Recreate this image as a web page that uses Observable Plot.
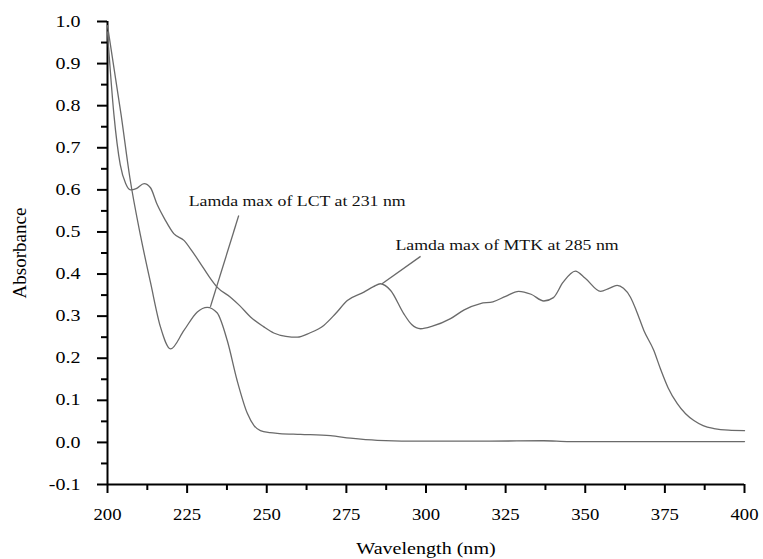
<!DOCTYPE html>
<html><head><meta charset="utf-8">
<script src="https://cdn.jsdelivr.net/npm/d3@7"></script>
<script src="https://cdn.jsdelivr.net/npm/@observablehq/plot@0.6"></script>
<style>body{margin:0;background:#fff;} svg text{font-family:"Liberation Serif","Times New Roman",serif;}</style>
</head><body><div id="chart"></div>
<script>
// MTK spectrum
const mtkWavelength = [200,202,204,205.7,207.2,209,211.5,213.5,215.6,218,220.8,224,226.5,229.2,231.8,234.4,238.6,241.5,244.9,249,252.2,256,259.6,263.5,267.9,271.5,275.3,280.5,283.5,285.7,288.9,293,295.5,298.3,302,307.7,312,317.1,321,325,329.1,333,337,340,343,346.9,350,354.8,357.5,360,362,364.2,366.2,368.4,371.5,373.6,376,378.9,381.5,384.1,387,390.4,395,400];
const mtkAbsorbance = [0.975,0.78,0.66,0.615,0.600,0.603,0.615,0.605,0.565,0.53,0.496,0.48,0.455,0.425,0.395,0.369,0.345,0.325,0.298,0.275,0.26,0.252,0.25,0.26,0.278,0.305,0.337,0.357,0.37,0.377,0.361,0.306,0.28,0.27,0.276,0.294,0.315,0.330,0.334,0.347,0.359,0.352,0.336,0.344,0.38,0.407,0.39,0.359,0.366,0.373,0.366,0.345,0.31,0.266,0.219,0.175,0.13,0.092,0.068,0.052,0.04,0.033,0.029,0.028];
// LCT spectrum
const lctWavelength = [200,204.3,207,210.4,213.5,216.6,219.8,224,228.2,231.3,234.4,237.6,240.7,243.9,246,248,251,254,260.6,270,276.3,284.7,300,320,337,345,370,400];
const lctAbsorbance = [0.99,0.777,0.63,0.49,0.38,0.275,0.222,0.266,0.31,0.321,0.308,0.242,0.147,0.069,0.04,0.028,0.023,0.021,0.019,0.016,0.01,0.005,0.003,0.003,0.004,0.002,0.002,0.002];

const xTicks = [200,225,250,275,300,325,350,375,400];
const xMinorTicks = [212.5,237.5,262.5,287.5,312.5,337.5,362.5,387.5];
const yTicks = [-0.1,0,0.1,0.2,0.3,0.4,0.5,0.6,0.7,0.8,0.9,1.0];
const yMinorTicks = [-0.05,0.05,0.15,0.25,0.35,0.45,0.55,0.65,0.75,0.85,0.95];

const annotationText = ["Lamda max of LCT at 231 nm","Lamda max of MTK at 285 nm"];
const annotationX = [225.5,290.4];
const annotationY = [0.561,0.458];
const leaderX1 = [232.3,286.2];
const leaderY1 = [0.322,0.377];
const leaderX2 = [241.2,298.3];
const leaderY2 = [0.539,0.442];

const mtk = mtkWavelength.map((w,i)=>({w, a: mtkAbsorbance[i]}));
const lct = lctWavelength.map((w,i)=>({w, a: lctAbsorbance[i]}));
const notes = annotationText.map((t,i)=>({t, x: annotationX[i], y: annotationY[i], x1: leaderX1[i], y1: leaderY1[i], x2: leaderX2[i], y2: leaderY2[i]}));

const plot = Plot.plot({
  width: 763, height: 559,
  marginTop: 21, marginLeft: 107, marginRight: 19, marginBottom: 75,
  style: {fontFamily: "'Liberation Serif', 'Times New Roman', serif", background: "white", color: "black"},
  x: {domain: [200, 400]},
  y: {domain: [-0.1, 1.0]},
  marks: [
    Plot.axisX({ticks: xTicks, tickSize: 9, tickPadding: 14, strokeWidth: 2, fontSize: 17, tickFormat: d => String(d), label: "Wavelength (nm)", labelAnchor: "center", labelArrow: false, labelOffset: 69}),
    Plot.axisX({ticks: xMinorTicks, tickSize: 6, strokeWidth: 2, tickFormat: () => "", label: null}),
    Plot.axisY({ticks: yTicks, tickSize: 10, tickPadding: 17, strokeWidth: 2, fontSize: 16, tickFormat: d => d.toFixed(1), label: "Absorbance", labelAnchor: "center", labelArrow: false, labelOffset: 95}),
    Plot.axisY({ticks: yMinorTicks, tickSize: 6, strokeWidth: 2, tickFormat: () => "", label: null}),
    Plot.ruleX([200], {y1: -0.1, y2: 1.0, strokeWidth: 2, stroke: "black"}),
    Plot.ruleY([-0.1], {x1: 200, x2: 400, strokeWidth: 2, stroke: "black"}),
    Plot.line(mtk, {x: "w", y: "a", curve: "monotone-x", stroke: "#6a6a6a", strokeWidth: 1.3}),
    Plot.line(lct, {x: "w", y: "a", curve: "monotone-x", stroke: "#6a6a6a", strokeWidth: 1.3}),
    Plot.link(notes, {x1: "x1", y1: "y1", x2: "x2", y2: "y2", stroke: "#6a6a6a", strokeWidth: 1.3}),
    Plot.text(notes, {x: "x", y: "y", text: "t", textAnchor: "start", lineAnchor: "bottom", fontSize: 14, fill: "#111"})
  ]
});
document.getElementById("chart").append(plot);

function stretch(label, factor) {
  plot.querySelectorAll(`g[aria-label="${label}"] text`).forEach(t => {
    const w = t.getComputedTextLength();
    t.setAttribute("textLength", (w * factor).toFixed(2));
    t.setAttribute("lengthAdjust", "spacingAndGlyphs");
  });
}
stretch("y-axis tick label", 1.25);
stretch("x-axis tick label", 1.1);
stretch("x-axis label", 1.18);
stretch("text", 1.27);
plot.querySelectorAll(`g[aria-label="y-axis label"] text`).forEach(t => t.setAttribute("font-size", 19));
</script>
</body></html>
